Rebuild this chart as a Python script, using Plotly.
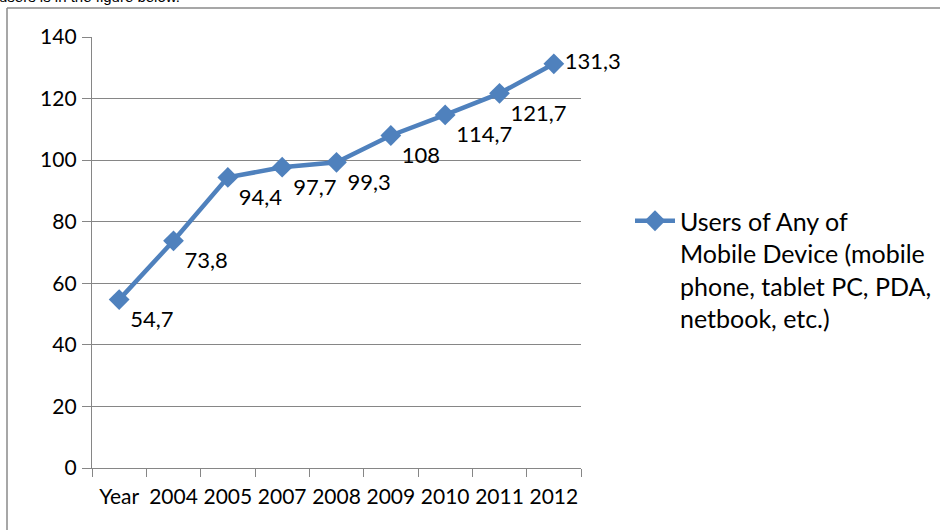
import plotly.graph_objects as go

categories = ["Year", "2004", "2005", "2007", "2008", "2009", "2010", "2011", "2012"]
users = [54.7, 73.8, 94.4, 97.7, 99.3, 108, 114.7, 121.7, 131.3]
series_name = "Users of Any of<br>Mobile Device (mobile<br>phone, tablet PC, PDA,<br>netbook, etc.)"
y_ticks = [0, 20, 40, 60, 80, 100, 120, 140]

labels = [f"{v:g}".replace(".", ",") for v in users]
positions = ["bottom right"] * (len(users) - 1) + ["middle right"]

FONT = "Lato"
BLUE = "#4F81BD"
GRAY = "#868686"

W, H = 940, 530
ML, MR, MT, MB = 92, 359, 37, 62
pw, ph = W - ML - MR, H - MT - MB


def px_x(p):
    return (p - ML) / pw


def px_y(p):
    return (H - MB - p) / ph


fig = go.Figure()
fig.add_trace(go.Scatter(
    x=categories, y=users, mode="lines+markers+text",
    name=series_name,
    line=dict(color=BLUE, width=4.5),
    marker=dict(symbol="diamond", size=16, color=BLUE),
    text=labels, textposition=positions,
    textfont=dict(family=FONT, size=22, color="black"),
    cliponaxis=False,
))

shapes = [
    dict(type="line", xref="paper", yref="paper", x0=px_x(7), x1=px_x(950),
         y0=px_y(8), y1=px_y(8), line=dict(color="#8a8a8a", width=1.5)),
    dict(type="line", xref="paper", yref="paper", x0=px_x(7), x1=px_x(7),
         y0=px_y(8), y1=px_y(540), line=dict(color="#8a8a8a", width=1.5)),
]

fig.update_layout(
    width=W, height=H,
    margin=dict(l=ML, r=MR, t=MT, b=MB, autoexpand=False),
    paper_bgcolor="white", plot_bgcolor="white",
    font=dict(family=FONT, size=21, color="black"),
    showlegend=True,
    legend=dict(x=px_x(630), y=px_y(198), xanchor="left", yanchor="top",
                valign="top", font=dict(family=FONT, size=25, color="black"),
                bgcolor="rgba(0,0,0,0)", itemwidth=40),
    shapes=shapes,
    annotations=[dict(text="users is in the figure below.", xref="paper", yref="paper",
                      x=px_x(-3), y=px_y(-3), xanchor="left", yanchor="middle",
                      showarrow=False, font=dict(family="Liberation Sans", size=15, color="black"))],
    xaxis=dict(type="category", range=[-0.5, 8.5], tickson="boundaries",
               ticks="outside", ticklen=8, tickcolor=GRAY, tickwidth=1.3,
               showline=True, linecolor=GRAY, linewidth=1.3, showgrid=False,
               tickangle=0, automargin=False, ticklabelstandoff=10,
               tickfont=dict(family=FONT, size=21), zeroline=False),
    yaxis=dict(range=[0, 140], tickvals=y_ticks, ticks="outside", ticklen=9,
               tickcolor=GRAY, tickwidth=1.3, showline=True, linecolor=GRAY, linewidth=1.3,
               showgrid=True, gridcolor=GRAY, gridwidth=1.3, zeroline=False,
               automargin=False,
               tickfont=dict(family=FONT, size=21), ticklabelstandoff=1),
)

fig.write_html("out.html", config={"displayModeBar": False},
               post_script="document.body.style.margin='0';")
